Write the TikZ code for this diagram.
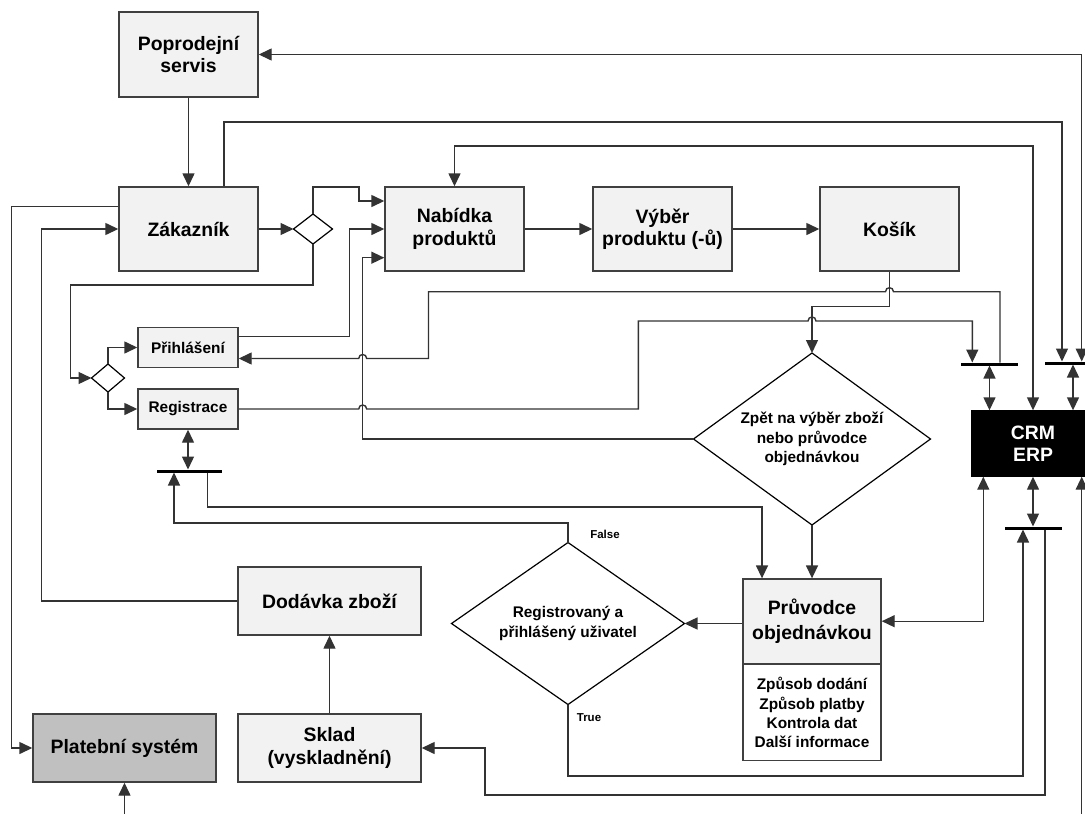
\documentclass[tikz,border=0pt]{standalone}
\usepackage{fontspec}
\setmainfont{Liberation Sans}
\usetikzlibrary{arrows.meta,shapes.geometric,calc}
\definecolor{boxfill}{HTML}{F2F2F2}
\definecolor{boxline}{HTML}{404040}
\definecolor{lncol}{HTML}{333333}
\definecolor{payfill}{HTML}{C0C0C0}
\begin{document}
\begin{tikzpicture}[x=1pt,y=-1pt,
  >={Triangle[length=13pt,width=12pt]},
  big/.style={font=\fontsize{19.4}{22.3}\selectfont\bfseries},
  mid/.style={font=\fontsize{15.4}{19.3}\selectfont\bfseries},
  small/.style={font=\fontsize{11.5}{13}\selectfont\bfseries},
  box/.style={rectangle, draw=boxline, fill=boxfill, line width=1.4pt, inner sep=0pt, align=center},
  dia/.style={diamond, draw=black, fill=white, line width=1.2pt, inner sep=0pt, outer sep=0pt},
  barnode/.style={rectangle, fill=black, inner sep=0pt, outer sep=0pt, minimum height=3pt},
  conn/.style={draw=lncol, line width=1.4pt},
]
\useasboundingbox (0,0) rectangle (1085,814);
\clip (0,0) rectangle (1085,814);

% boxes
\node[box,big,minimum width=139pt,minimum height=85pt] (pop) at (188.5,54.5) {Poprodejní\\servis};
\node[box,big,minimum width=139pt,minimum height=84pt] (zak) at (188.5,229) {Zákazník};
\node[box,big,minimum width=139pt,minimum height=84pt] (nab) at (454.5,229) {Nabídka\\produktů};
\node[box,big,minimum width=139pt,minimum height=84pt] (vyb) at (662.5,229) {Výběr\\produktu (-ů)};
\node[box,big,minimum width=139pt,minimum height=84pt] (kos) at (889.5,229) {Košík};
\node[box,mid,minimum width=100pt,minimum height=39.5pt] (pri) at (188,347.5) {Přihlášení};
\node[box,mid,minimum width=100pt,minimum height=40pt] (reg) at (188,409) {Registrace};
\node[dia,minimum width=39pt,minimum height=30pt] (d1) at (313,229) {};
\node[dia,minimum width=33pt,minimum height=28pt] (d2) at (108,378) {};
\node[dia,minimum width=237pt,minimum height=172pt] (zpet) at (812,439) {};
\node[mid,align=center] (zpett) at (zpet.center) {Zpět na výběr zboží\\nebo průvodce\\objednávkou};
\node[dia,minimum width=233pt,minimum height=162pt] (regd) at (568,623.5) {};
\node[mid,align=center] (regdt) at (regd.center) {Registrovaný a\\přihlášený uživatel};
\node[box,big,minimum width=138pt,minimum height=84.3pt,font=\fontsize{19.4}{25}\selectfont\bfseries] (pru) at (812,621.2) {Průvodce\\objednávkou};
\node[box,mid,fill=white,minimum width=138pt,minimum height=95.7pt,anchor=north] (prub) at (pru.south) {Způsob dodání\\Způsob platby\\Kontrola dat\\Další informace};
\node[box,big,fill=black,draw=black,text=white,minimum width=122pt,minimum height=65pt] (crm) at (1033,443.5) {CRM\\ERP};
\node[box,big,minimum width=183pt,minimum height=68pt] (dod) at (329.5,601) {Dodávka zboží};
\node[box,big,minimum width=183pt,minimum height=68pt] (sklad) at (329.5,748) {Sklad\\(vyskladnění)};
\node[box,big,fill=payfill,minimum width=183pt,minimum height=68pt] (plat) at (124.5,748) {Platební systém};

% bars
\node[barnode,minimum width=57pt] (bar1) at (989.5,364) {};
\node[barnode,minimum width=57pt] (bar2) at (1073,363) {};
\node[barnode,minimum width=57pt] (bar3) at (1033.5,528) {};
\node[barnode,minimum width=65pt] (regbar) at (189.5,471) {};

% labels
\node[small] (lf) at (605,534) {False};
\node[small] (lt) at (589,718) {True};

% connectors
\draw[conn,->] (pop.south) -- (zak.north);
\draw[conn,->] ([xshift=35.5pt]zak.north) |- (1062,122) -- ([xshift=-11pt]bar2.north);
\draw[conn,<->] (pop.east) -| ([xshift=8.7pt]bar2.north);
\draw[conn,<->] (bar2.south) -- ([xshift=40pt]crm.north);
\draw[conn,<->] (crm.north) |- (454.5,146) -- (nab.north);
\draw[conn,->] (nab.east) -- (vyb.west);
\draw[conn,->] (vyb.east) -- (kos.west);
\draw[conn,->] (zak.east) -- (d1.west);
\draw[conn,->] (d1.north) |- (359,187) |- ([yshift=28pt]nab.west);
\draw[conn,->] (d1.south) |- (70.3,285) |- (d2.west);
\draw[conn,->] (d2.north) |- (pri.west);
\draw[conn,->] (d2.south) |- (reg.west);
\draw[conn,->] ([yshift=11pt]pri.east) -| (349.5,229) -- (nab.west);
\draw[conn,->] (zpet.west) -- (362.7,439) |- ([yshift=-28.7pt]nab.west);
\draw[conn,->] ([xshift=10.5pt]bar1.north) -- (1000,291.7) -- (893.5,291.7)
   .. controls (893.5,286.4) and (885.5,286.4) .. (885.5,291.7) -- (428.5,291.7) -- (428.5,358.5) -- (366.7,358.5)
   .. controls (366.7,353.2) and (358.7,353.2) .. (358.7,358.5) -- ([yshift=-11pt]pri.east);
\draw[conn,->] (reg.east) -- (358.7,409) .. controls (358.7,403.7) and (366.7,403.7) .. (366.7,409)
   -- (638.3,409) -- (638.3,321) -- (808,321) .. controls (808,315.7) and (816,315.7) .. (816,321)
   -- (972.3,321) -- ([xshift=-17.2pt]bar1.north);
\draw[conn,->] (kos.south) -- (889.5,306.7) -| (zpet.north);
\draw[conn,<->] (bar1.south) -- ([xshift=-43.5pt]crm.north);
\draw[conn,->] (zpet.south) -- (pru.north);
\draw[conn,->] (pru.west |- regd.east) -- (regd.east);
\draw[conn,<->] (pru.east) -| ([xshift=-49.7pt]crm.south);
\draw[conn,->] (regd.north) -- (568,523) -| ([xshift=-15.5pt]regbar.south);
\draw[conn,->] ([xshift=18.2pt]regbar.south) |- (762,507) -- ([xshift=-50pt]pru.north);
\draw[conn,<->] (reg.south) -- (reg.south |- regbar.north);
\draw[conn,->] (regd.south) |- (1023,776) -- ([xshift=-10.5pt]bar3.south);
\draw[conn,->] ([xshift=11.5pt]bar3.south) |- (485,795) |- (sklad.east);
\draw[conn,<->] (crm.south) -- (crm.south |- bar3.north);
\draw[conn,->] (sklad.north) -- (dod.south);
\draw[conn,->] (dod.west) -| (41.7,229) -- (zak.west);
\draw[conn,->] ([yshift=22.3pt]zak.west) -| (11.7,748) -- (plat.west);
\draw[conn,<->] ([xshift=48.7pt]crm.south) -- (1081.7,840) -| (plat.south);
\end{tikzpicture}
\end{document}
